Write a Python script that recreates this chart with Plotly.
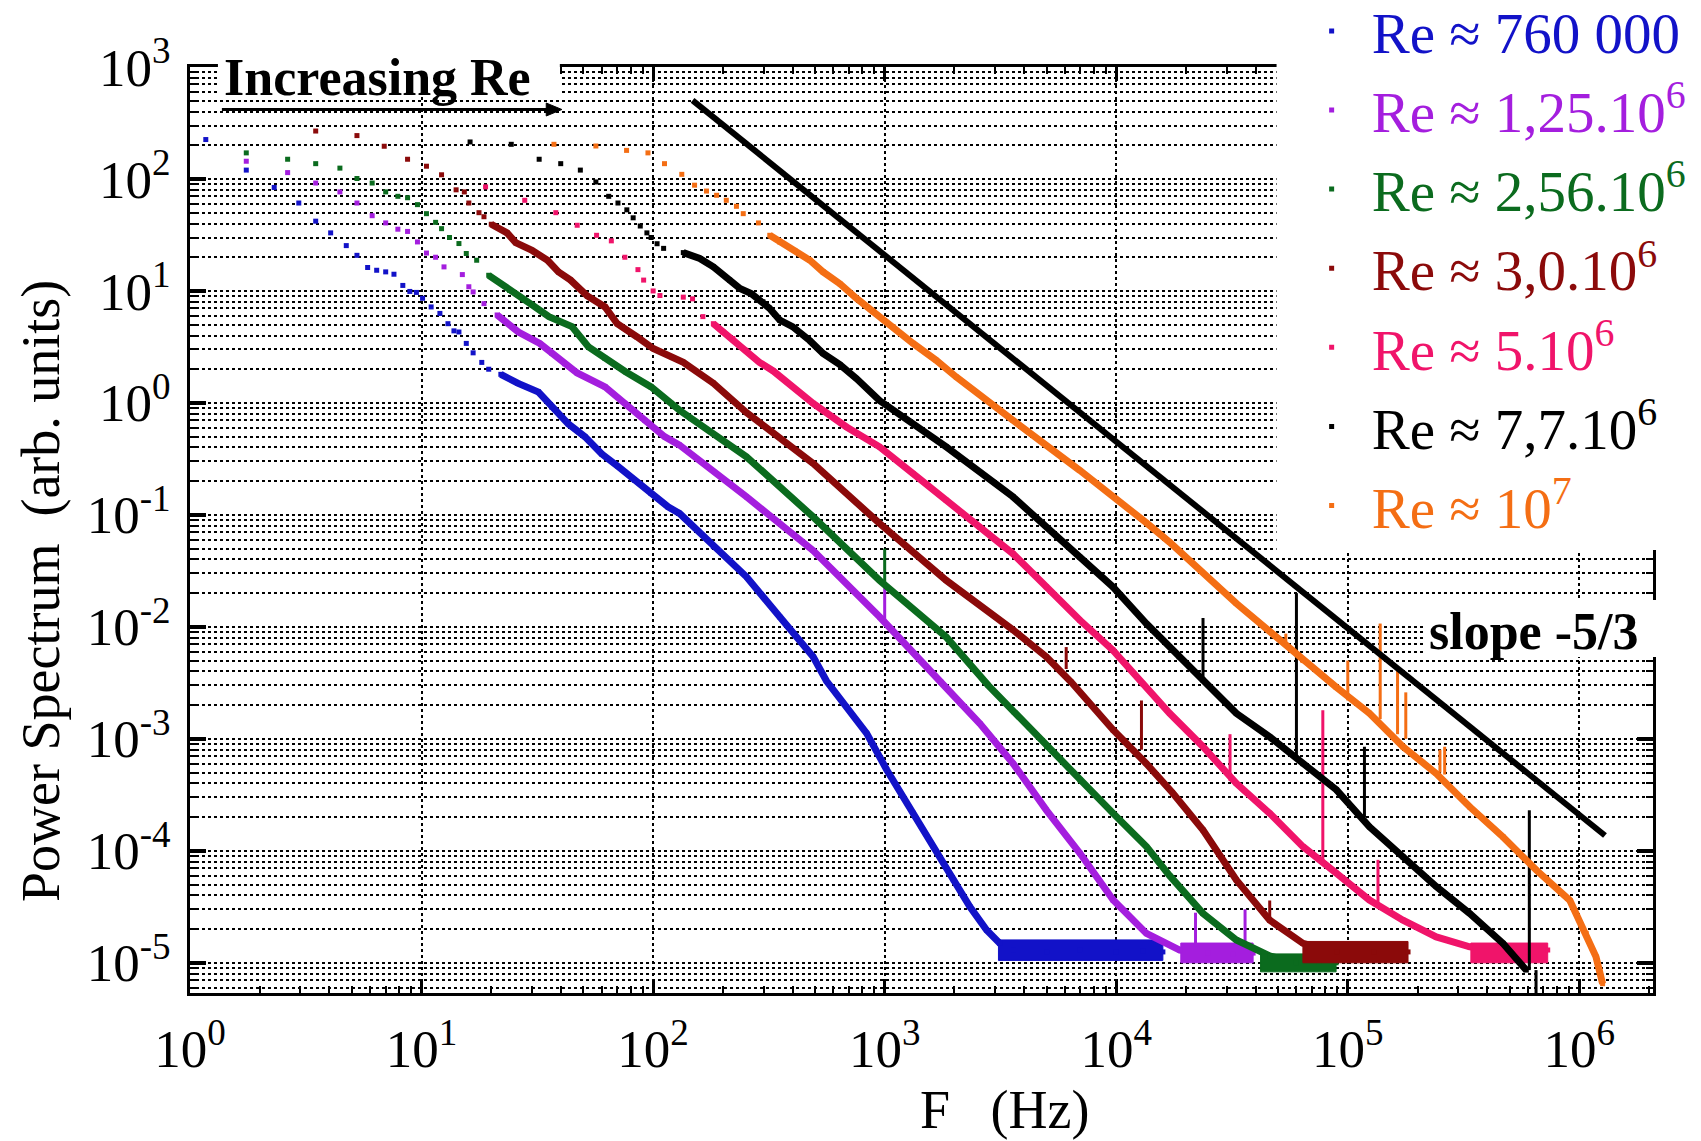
import plotly.graph_objects as go

# ---------------- data ----------------
legend_names = [
    "Re \u2248 760 000",
    "Re \u2248 1,25.10<sup>6</sup>",
    "Re \u2248 2,56.10<sup>6</sup>",
    "Re \u2248 3,0.10<sup>6</sup>",
    "Re \u2248 5.10<sup>6</sup>",
    "Re \u2248 7,7.10<sup>6</sup>",
    "Re \u2248 10<sup>7</sup>",
]
series_colors = ["#1212C8", "#A41EDE", "#0B6B1E", "#8B0A0A", "#F0146A", "#000000", "#F46E14"]

blue_f = [1.17, 1.75, 2.31, 2.95, 3.49, 4.05, 4.73, 5.26, 5.85, 6.4, 7.0, 7.6, 8.3, 8.9, 9.5, 10.1,
          11.0, 12.0, 13.0, 13.8, 14.5, 15.6, 16.7, 18.2, 19.5, 22.0, 26.0, 32.0, 36.4, 43.0, 50.7,
          60.0, 70.6, 83.0, 98.0, 116, 130, 182, 253, 352, 491, 560, 686, 836, 1020, 1330, 1622,
          1978, 2334, 2754, 3143, 3600, 5000, 7000, 10000, 13000, 15900]
blue_p = [225, 120, 84, 61, 42, 33, 25.4, 20.8, 16.2, 15.3, 14.8, 14.1, 11.2, 9.9, 9.7, 8.6,
          7.2, 6.3, 5.1, 4.4, 4.3, 3.4, 2.8, 2.3, 2.0, 1.8, 1.5, 1.25, 0.92, 0.65, 0.50,
          0.35, 0.27, 0.204, 0.155, 0.118, 0.103, 0.052, 0.028, 0.0123, 0.0054, 0.0033, 0.00193,
          0.00112, 5.3e-4, 2.16e-4, 1.09e-4, 5.5e-5, 3.16e-5, 1.96e-5, 1.49e-5, 1.3e-5, 1.25e-5,
          1.3e-5, 1.25e-5, 1.28e-5, 1.25e-5]

purple_f = [1.75, 2.64, 3.49, 4.44, 5.26, 6.12, 7.0, 7.9, 8.7, 9.6, 10.5, 11.5, 12.5, 15.0, 16.0,
            16.7, 18.6, 21.2, 26.2, 32.4, 36.6, 41.4, 47.0, 62.0, 75.5, 92.0, 112, 130, 253, 491,
            950, 1750, 2576, 3590, 5000, 6970, 9700, 13500, 18800, 25000, 32000, 39000]
purple_p = [144, 114, 92, 76.6, 61, 47, 40.5, 35.6, 34, 27.4, 21.8, 20, 16.4, 14, 10.9,
            9.8, 7.7, 6.1, 4.3, 3.4, 2.76, 2.24, 1.85, 1.39, 0.99, 0.70, 0.50, 0.42, 0.145, 0.048,
            0.0123, 0.0032, 1.37e-3, 6.0e-4, 2.3e-4, 9.5e-5, 3.63e-5, 1.83e-5, 1.3e-5, 1.22e-5,
            1.2e-5, 1.22e-5]

green_f = [1.75, 2.64, 3.49, 4.44, 5.26, 6.12, 7.0, 7.9, 8.7, 9.6, 10.5, 11.5, 12.2, 13.2, 14.5,
           15.6, 17.3, 19.5, 24.0, 30.0, 35.5, 44.6, 52.6, 62.0, 76.0, 98.0, 120, 130, 253, 491,
           950, 1845, 2800, 3600, 5000, 6970, 9700, 13500, 17000, 23700, 33000, 46000, 60000,
           75000, 89000]
green_p = [171, 150, 137, 125, 101, 92, 76.6, 70, 68, 59, 49, 41, 36, 30, 26.5,
           21.6, 18.8, 13.8, 10.1, 7.5, 5.9, 4.8, 3.16, 2.5, 1.9, 1.39, 0.99, 0.86, 0.33, 0.096,
           0.026, 0.0081, 3.0e-3, 1.75e-3, 8.5e-4, 4.3e-4, 2.16e-4, 1.09e-4, 6.0e-5, 2.76e-5,
           1.6e-5, 1.15e-5, 1.0e-5, 1.02e-5, 1.0e-5]

red_f = [3.49, 5.26, 6.9, 8.7, 10.5, 12.2, 14.1, 15.3, 16.0, 17.7, 18.6, 20.0, 23.4, 25.5, 30.0,
         35.0, 39.0, 44.0, 52.0, 62.0, 70.0, 85.0, 100, 135, 182, 253, 491, 950, 1845, 3580,
         4990, 6400, 9700, 13500, 17500, 23700, 33000, 46000, 64000, 90000, 130000, 182000]
red_p = [268, 244, 196, 150, 130, 109, 80, 76.6, 61, 50, 46, 39.4, 33, 27, 23,
         18.8, 14.8, 12.5, 9.0, 7.2, 5.1, 3.9, 3.06, 2.3, 1.5, 0.82, 0.288, 0.084, 0.026, 0.0094,
         0.0054, 0.0032, 1.2e-3, 6.0e-4, 3.3e-4, 1.53e-4, 5.5e-5, 2.4e-5, 1.49e-5, 1.25e-5,
         1.25e-5, 1.25e-5]

pink_f = [18.9, 27.9, 38.0, 47.0, 57.0, 66.0, 75.5, 86.0, 91.0, 100, 107, 135, 148, 164, 182,
          200, 221, 251, 288, 330, 491, 684, 950, 1324, 1845, 2570, 3580, 4990, 6955, 9670,
          13000, 17000, 23700, 33000, 46000, 64000, 89300, 124000, 173000, 241000, 336000,
          468000, 600000, 730000]
pink_p = [85, 64.5, 50, 38.6, 31.4, 28, 20, 15.5, 12.5, 10, 9.1, 8.8, 8.5, 5.9, 5.1,
          4.3, 3.76, 2.95, 2.3, 1.93, 0.99, 0.61, 0.405, 0.234, 0.135, 0.078, 0.045, 0.0228,
          0.0115, 0.0062, 0.0031, 1.69e-3, 8.5e-4, 4.0e-4, 2.16e-4, 1.09e-4, 6.3e-5, 3.63e-5,
          2.4e-5, 1.7e-5, 1.39e-5, 1.3e-5, 1.25e-5, 1.3e-5]

black_f = [16.2, 24.4, 32.2, 39.9, 48.5, 56.6, 64.3, 70.5, 77.0, 82.0, 88.0, 94.0, 98.0, 104, 111,
           135, 159, 182, 214, 237, 265, 298, 318, 352, 400, 475, 542, 640, 755, 950, 1845, 3580,
           6955, 9670, 13490, 18700, 23700, 33000, 46000, 64000, 89300, 124000, 173000, 241000,
           336000, 468000, 590000]
black_p = [214, 204, 150, 137, 120, 94, 70, 61, 53, 45, 38, 33, 30, 26.4, 24,
           22, 19.5, 16.4, 12.5, 10.5, 9.5, 8.0, 7.0, 5.5, 4.8, 3.6, 2.76, 2.2, 1.65, 1.05, 0.405,
           0.145, 0.042, 0.0228, 0.0107, 0.0054, 3.34e-3, 1.69e-3, 1.04e-3, 6.0e-4, 3.5e-4,
           1.64e-4, 8.8e-5, 4.8e-5, 2.76e-5, 1.49e-5, 8.6e-6]

orange_f = [37.3, 56.6, 76.8, 95.0, 112, 133, 151, 170, 188, 207, 229, 245, 285, 319, 352, 409,
            475, 542, 640, 755, 891, 1087, 1326, 1670, 2040, 3580, 6955, 13490, 17000, 33000,
            64000, 89000, 124000, 173000, 241000, 336000, 468000, 653000, 910000, 1070000,
            1180000, 1260000]
orange_p = [204, 197, 180, 171, 137, 110, 88, 78, 71.5, 64.5, 57, 49, 40.5, 31.4, 27.4, 23,
            18.8, 14.8, 11.6, 8.6, 6.5, 4.8, 3.4, 2.4, 1.7, 0.70, 0.25, 0.085, 0.057, 0.0162,
            5.0e-3, 2.9e-3, 1.69e-3, 8.5e-4, 4.9e-4, 2.47e-4, 1.33e-4, 6.7e-5, 3.6e-5, 1.83e-5,
            1.13e-5, 6.5e-6]

# frequency above which the measured points are dense enough to read as a continuous band
dense_from = [20, 20, 18, 20, 180, 130, 300]

# noise-floor bands: (f start, f end, lower P, upper P)
floor_bands = [
    (3100, 15900, 1.05e-5, 1.6e-5),
    (19000, 39000, 1.0e-5, 1.5e-5),
    (42000, 89000, 8.3e-6, 1.2e-5),
    (64000, 182000, 1.0e-5, 1.55e-5),
    (340000, 730000, 1.0e-5, 1.5e-5),
    None,
    None,
]

# isolated spectral peaks: (f, base P, top P)
blue_spikes = []
purple_spikes = [(1000, 0.011, 0.0245), (22000, 1.4e-5, 2.8e-5), (36000, 1.4e-5, 3.0e-5)]
green_spikes = [(1000, 0.024, 0.05)]
red_spikes = [(6080, 0.0042, 0.0066), (12850, 8.0e-4, 2.2e-3), (46000, 2.4e-5, 3.6e-5)]
pink_spikes = [(31000, 4.2e-4, 1.1e-3), (78000, 8.0e-5, 1.8e-3), (135000, 3.3e-5, 8.3e-5)]
black_spikes = [(23700, 3.3e-3, 0.012), (60000, 6.5e-4, 0.02), (118000, 2.0e-4, 8.5e-4),
                (608000, 8.6e-6, 2.3e-4), (650000, 4.0e-6, 8.6e-6)]
orange_spikes = [(54000, 6.5e-3, 8.7e-3), (100000, 2.2e-3, 5.0e-3), (138000, 1.5e-3, 0.0107),
                 (164000, 1.1e-3, 4.1e-3), (178000, 1.0e-3, 2.6e-3), (250000, 5.0e-4, 8.0e-4),
                 (262000, 4.8e-4, 8.5e-4)]

# Kolmogorov -5/3 reference line
slope_f = [148, 1.29e6]
slope_p = [504, 1.37e-4]

x_tick_vals = [1, 10, 100, 1e3, 1e4, 1e5, 1e6]
x_tick_text = ["10<sup>0</sup>", "10<sup>1</sup>", "10<sup>2</sup>", "10<sup>3</sup>",
               "10<sup>4</sup>", "10<sup>5</sup>", "10<sup>6</sup>"]
y_tick_vals = [1e-5, 1e-4, 1e-3, 1e-2, 1e-1, 1, 10, 100, 1000]
y_tick_text = ["10<sup>-5</sup>", "10<sup>-4</sup>", "10<sup>-3</sup>", "10<sup>-2</sup>",
               "10<sup>-1</sup>", "10<sup>0</sup>", "10<sup>1</sup>", "10<sup>2</sup>",
               "10<sup>3</sup>"]

all_f = [blue_f, purple_f, green_f, red_f, pink_f, black_f, orange_f]
all_p = [blue_p, purple_p, green_p, red_p, pink_p, black_p, orange_p]
all_spikes = [blue_spikes, purple_spikes, green_spikes, red_spikes, pink_spikes,
              black_spikes, orange_spikes]

# ---------------- figure ----------------
FONT = "Liberation Serif"
fig = go.Figure()

for i in range(7):
    col = series_colors[i]
    grp = "s%d" % i
    name = '<span style="color:%s">%s</span>' % (col, legend_names[i])
    f, p = all_f[i], all_p[i]
    fd = [a for a in f if a >= dense_from[i]]
    pd_ = [b for a, b in zip(f, p) if a >= dense_from[i]]
    fig.add_trace(go.Scatter(x=fd, y=pd_, mode="lines", line=dict(color=col, width=7),
                             legendgroup=grp, showlegend=False, hoverinfo="skip"))
    fb = floor_bands[i]
    if fb is not None:
        fig.add_trace(go.Scatter(x=[fb[0], fb[1], fb[1], fb[0], fb[0]],
                                 y=[fb[2], fb[2], fb[3], fb[3], fb[2]],
                                 mode="lines", fill="toself", fillcolor=col,
                                 line=dict(color=col, width=1), legendgroup=grp,
                                 showlegend=False, hoverinfo="skip"))
    sx, sy = [], []
    for (sf, sb, st) in all_spikes[i]:
        sx += [sf, sf, None]
        sy += [sb, st, None]
    if sx:
        fig.add_trace(go.Scatter(x=sx, y=sy, mode="lines", line=dict(color=col, width=3),
                                 legendgroup=grp, showlegend=False, hoverinfo="skip"))
    fig.add_trace(go.Scatter(x=f, y=p, mode="markers", name=name, legendgroup=grp,
                             marker=dict(symbol="square", size=5, color=col)))

fig.add_trace(go.Scatter(x=slope_f, y=slope_p, mode="lines", line=dict(color="black", width=6),
                         showlegend=False, hoverinfo="skip"))

axis_common = dict(
    type="log", showline=True, linewidth=2.5, linecolor="black", mirror="allticks",
    ticks="inside", tickcolor="black", zeroline=False,
    showgrid=True, gridcolor="#000000", griddash="dot", gridwidth=2,
    tickfont=dict(family=FONT, size=53, color="black"),
)

fig.update_xaxes(**axis_common, range=[0, 6.318], tickmode="array", tickvals=x_tick_vals,
                 ticktext=x_tick_text, ticklen=14, tickwidth=2.5, ticklabelstandoff=8,
                 minor=dict(dtick="D1", ticks="inside", ticklen=7, tickwidth=1.5,
                            tickcolor="black", showgrid=False))
fig.update_yaxes(**axis_common, range=[-5.27, 3.0], tickmode="array", tickvals=y_tick_vals,
                 ticktext=y_tick_text, ticklen=16, tickwidth=3.5, ticklabelstandoff=6,
                 minor=dict(dtick="D1", ticks="inside", ticklen=7, tickwidth=1.5,
                            tickcolor="black", showgrid=True, gridcolor="#000000",
                            griddash="dot", gridwidth=2))

white_box = dict(type="rect", xref="paper", yref="paper", fillcolor="white",
                 line=dict(width=0), layer="above")

fig.update_layout(
    width=1701, height=1141,
    margin=dict(l=190, r=48, t=67, b=148, autoexpand=False),
    paper_bgcolor="white", plot_bgcolor="white",
    font=dict(family=FONT, size=52, color="black"),
    legend=dict(x=0.753, y=1.086, xanchor="left", yanchor="top",
                bgcolor="rgba(255,255,255,0)", borderwidth=0,
                font=dict(family=FONT, size=57), tracegroupgap=2, itemwidth=70,
                traceorder="grouped"),
    shapes=[
        dict(white_box, x0=0.7427, x1=1.03, y0=0.4784, y1=1.02),
        dict(white_box, x0=0.0191, x1=0.2528, y0=0.9676, y1=1.02),
        dict(white_box, x0=0.8441, x1=1.03, y0=0.3629, y1=0.4244),
        # "Increasing Re" arrow: shaft and head
        dict(type="line", xref="paper", yref="paper", x0=0.0218, x1=0.2460, y0=0.9541,
             y1=0.9541, line=dict(color="black", width=3), layer="above"),
        dict(type="path", xref="paper", yref="paper",
             path="M 0.2435 0.9611 L 0.2542 0.9541 L 0.2435 0.9471 Z",
             fillcolor="black", line=dict(color="black", width=1), layer="above"),
    ],
    annotations=[
        dict(text="<b>Increasing Re</b>", xref="paper", yref="paper", x=0.1284, y=0.9892,
             xanchor="center", yanchor="middle", showarrow=False,
             font=dict(family=FONT, size=52, color="black")),
        dict(text="<b>slope -5/3</b>", xref="paper", yref="paper", x=0.9183, y=0.390,
             xanchor="center", yanchor="middle", showarrow=False,
             font=dict(family=FONT, size=52, color="black")),
        dict(text="F\u00a0\u00a0\u00a0(Hz)", xref="paper", yref="paper", x=0.557, y=-0.126,
             xanchor="center", yanchor="middle", showarrow=False,
             font=dict(family=FONT, size=54, color="black")),
        dict(text="Power Spectrum\u00a0\u00a0(arb. units)", xref="paper", yref="paper",
             x=-0.1019, y=0.434, xanchor="center", yanchor="middle", textangle=-90,
             showarrow=False, font=dict(family=FONT, size=54, color="black")),
    ],
)

fig.write_html("out.html", config={"displayModeBar": False},
               post_script="document.body.style.margin='0';")
